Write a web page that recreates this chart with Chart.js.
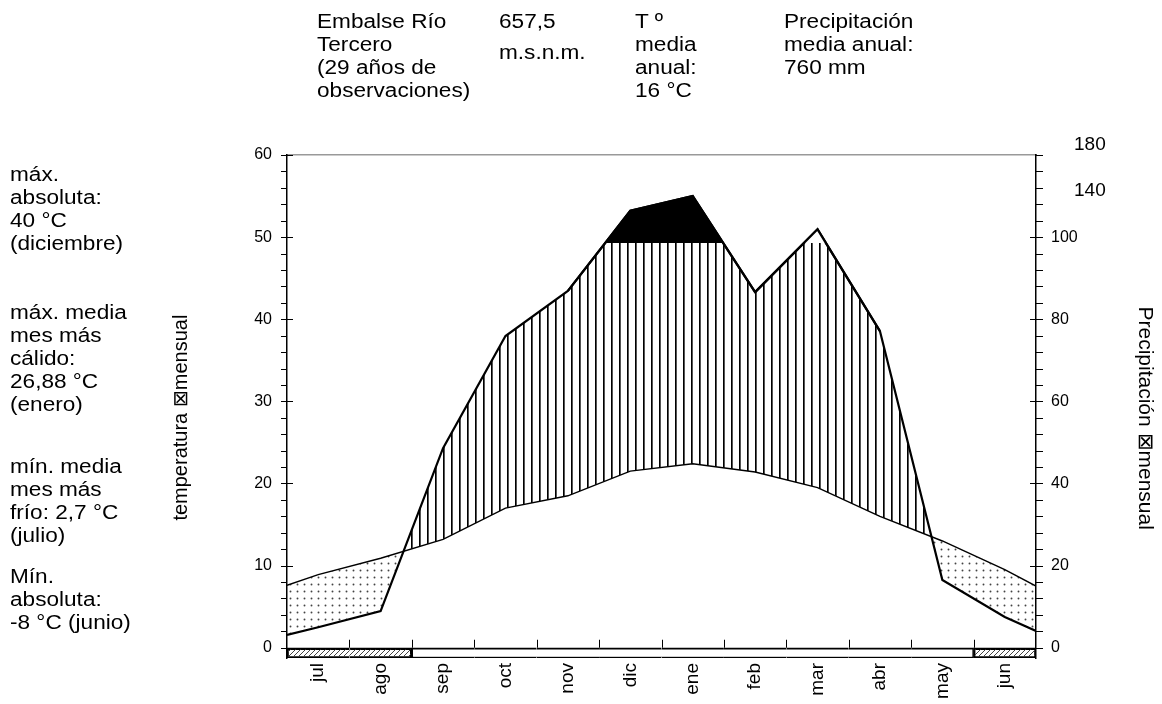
<!DOCTYPE html>
<html lang="es">
<head>
<meta charset="UTF-8">
<title>Climodiagrama Embalse Río Tercero</title>
<script src="https://cdn.jsdelivr.net/npm/chart.js@4.4.0/dist/chart.umd.min.js"></script>
<style>
    html, body { margin: 0; padding: 0; background: #fff; }
    body {
        width: 1162px; height: 704px; position: relative; overflow: hidden;
        font-family: 'Liberation Sans', Arial, sans-serif; color: #000;
    }
    #chart { position: absolute; left: 0; top: 0; }
    .note {
        position: absolute; font-size: 20px; line-height: 23px; white-space: nowrap;
        transform: scaleX(1.13); transform-origin: 0 0;
    }
</style>
</head>
<body>
<canvas id="chart" width="1162" height="704"></canvas>

<div class="note" style="left:317px; top:10px;">Embalse Río<br>Tercero<br>(29 años de<br>observaciones)</div>
<div class="note" style="left:499px; top:10px;">657,5</div>
<div class="note" style="left:499px; top:41px;">m.s.n.m.</div>
<div class="note" style="left:635px; top:10px;">T º<br>media<br>anual:<br>16 °C</div>
<div class="note" style="left:784px; top:10px;">Precipitación<br>media anual:<br>760 mm</div>

<div class="note" style="left:10px; top:163px;">máx.<br>absoluta:<br>40 °C<br>(diciembre)</div>
<div class="note" style="left:10px; top:301px;">máx. media<br>mes más<br>cálido:<br>26,88 °C<br>(enero)</div>
<div class="note" style="left:10px; top:455px;">mín. media<br>mes más<br>frío: 2,7 °C<br>(julio)</div>
<div class="note" style="left:10px; top:565px;">Mín.<br>absoluta:<br>-8 °C (junio)</div>

<script>
// months from July to June (southern hemisphere diagram)
const months = ['jul', 'ago', 'sep', 'oct', 'nov', 'dic', 'ene', 'feb', 'mar', 'abr', 'may', 'jun'];
const tempMean = [8.9, 10.9, 13.2, 17.0, 18.5, 21.5, 22.4, 21.4, 19.5, 16.0, 13.0, 9.5];
const precMm = [5.0, 8.9, 48.6, 75.9, 86.9, 122.9, 135.7, 86.6, 106.8, 77.1, 16.5, 7.5];
// values where the curves meet the left and right border
const tempEdges = [7.6, 7.5];
const precEdgesMm = [3.1, 4.1];
// months with absolute frost (hatched strip)
const frostMonths = [1, 1, 0, 0, 0, 0, 0, 0, 0, 0, 0, 1];
const blackMonths = ['nov', 'dic', 'ene', 'feb'];
const plainMonths = ['feb', 'mar', 'abr'];

const tempTicks = [0, 10, 20, 30, 40, 50, 60];
const precTicks = [0, 20, 40, 60, 80, 100];
const precTicksHigh = [140, 180];

const yMin = -1.25;        // room for the frost strip
const wetTop = 49.2843;    // 100 mm line as drawn

// 20 mm = 10 °C up to 100 mm, compressed above
function mmToUnits(mm) {
    return mm <= 100 ? mm / 2 : 50 + (mm - 100) * 0.14;
}

const tempPts = [{x: 0, y: tempEdges[0]}]
    .concat(months.map((m, i) => ({x: i + 0.5, y: tempMean[i]})))
    .concat([{x: 12, y: tempEdges[1]}]);
const precPts = [{x: 0, y: mmToUnits(precEdgesMm[0])}]
    .concat(months.map((m, i) => ({x: i + 0.5, y: mmToUnits(precMm[i])})))
    .concat([{x: 12, y: mmToUnits(precEdgesMm[1])}]);
const pickPrec = names => months
    .map((m, i) => names.includes(m) ? {x: i + 0.5, y: mmToUnits(precMm[i])} : null)
    .filter(p => p);

const canvas = document.getElementById('chart');
const ctx = canvas.getContext('2d');

function makePattern(w, h, draw) {
    const c = document.createElement('canvas');
    c.width = w;
    c.height = h;
    draw(c.getContext('2d'));
    return ctx.createPattern(c, 'repeat');
}

const stripes = makePattern(8, 8, g => {
    g.fillStyle = '#000';
    g.fillRect(3, 0, 1, 8);
    g.fillStyle = '#555';
    g.fillRect(4, 0, 1, 8);
});
const dots = makePattern(7, 7, g => {
    g.fillStyle = '#444';
    g.beginPath();
    g.arc(3.5, 3.5, 0.95, 0, Math.PI * 2);
    g.fill();
});
const hatch = makePattern(5, 5, g => {
    g.strokeStyle = '#444';
    g.lineWidth = 1;
    g.beginPath();
    g.moveTo(0, 5); g.lineTo(5, 0);
    g.moveTo(-1, 1); g.lineTo(1, -1);
    g.moveTo(4, 6); g.lineTo(6, 4);
    g.stroke();
});

// tick marks of both y axes and the month boundaries, plus the upper precip labels
const tickMarks = {
    id: 'tickMarks',
    afterDraw(chart) {
        const {ctx, chartArea, scales} = chart;
        const {x, y, y2} = scales;
        const l = chartArea.left, r = chartArea.right;
        ctx.save();
        ctx.strokeStyle = '#000';
        ctx.lineWidth = 1;
        ctx.beginPath();
        for (let v = 0; v <= 60; v += 2) {
            const py = Math.round(y.getPixelForValue(v)) + 0.5;
            const major = v % 10 === 0;
            ctx.moveTo(l - 6, py);
            ctx.lineTo(major ? l + 6 : l, py);
            ctx.moveTo(r + 7, py);
            ctx.lineTo(major && v <= 50 ? r - 6 : r, py);
        }
        const y0 = y.getPixelForValue(0);
        for (let i = 1; i < months.length; i++) {
            const px = Math.round(x.getPixelForValue(i)) + 0.5;
            ctx.moveTo(px, y0 - 8);
            ctx.lineTo(px, y0);
        }
        ctx.stroke();
        ctx.fillStyle = '#000';
        ctx.font = '19px "Liberation Sans", Arial, sans-serif';
        ctx.textAlign = 'left';
        ctx.textBaseline = 'middle';
        precTicksHigh.forEach(mm => {
            ctx.fillText(String(mm), r + 38, y2.getPixelForValue(mmToUnits(mm)));
        });
        ctx.restore();
    }
};

Chart.defaults.font.family = '"Liberation Sans", Arial, sans-serif';
Chart.defaults.color = '#000';

const nb = '\u00a0\u00a0\u00a0\u00a0';

new Chart(ctx, {
    type: 'line',
    data: {
        datasets: [
            {
                label: 'temperatura',
                data: tempPts,
                borderColor: '#000',
                borderWidth: 1.4,
                pointRadius: 0,
                fill: false
            },
            {
                label: 'precipitación (mar)',
                data: pickPrec(plainMonths),
                borderColor: '#000',
                borderWidth: 2.2,
                pointRadius: 0,
                fill: {target: {value: wetTop}, above: '#fff', below: 'rgba(0,0,0,0)'}
            },
            {
                label: 'precipitación > 100 mm',
                data: pickPrec(blackMonths),
                borderColor: '#000',
                borderWidth: 2.2,
                pointRadius: 0,
                fill: {target: {value: wetTop}, above: '#000', below: 'rgba(0,0,0,0)'}
            },
            {
                label: 'precipitación',
                data: precPts,
                borderColor: '#000',
                borderWidth: 2.2,
                pointRadius: 0,
                fill: {target: 0, above: stripes, below: dots}
            },
            {
                type: 'bar',
                label: 'heladas',
                data: months.map((m, i) => ({x: i + 0.5, y: [yMin, 0]})),
                backgroundColor: months.map((m, i) => frostMonths[i] ? hatch : '#fff'),
                borderColor: '#000',
                borderWidth: months.map((m, i) => ({
                    top: 2,
                    bottom: 1.5,
                    left: frostMonths[i] !== (frostMonths[i - 1] || 0) ? 1.5 : 0,
                    right: frostMonths[i] !== (frostMonths[i + 1] || 0) ? 1.5 : 0
                })),
                borderSkipped: false,
                barPercentage: 1,
                categoryPercentage: 1
            }
        ]
    },
    options: {
        responsive: false,
        devicePixelRatio: 1,
        animation: false,
        layout: {padding: {top: 155, left: 0, right: 0, bottom: 0}},
        plugins: {legend: {display: false}, tooltip: {enabled: false}},
        scales: {
            x: {
                type: 'linear',
                position: 'bottom',
                min: 0,
                max: 12,
                offset: false,
                afterBuildTicks: s => { s.ticks = months.map((m, i) => ({value: i + 0.5})); },
                afterFit: s => { s.height = 46; },
                grid: {display: false, drawTicks: false},
                border: {display: false},
                ticks: {
                    autoSkip: false,
                    minRotation: 90,
                    maxRotation: 90,
                    padding: 5,
                    font: {size: 19},
                    color: '#000',
                    callback: (v, i) => months[i]
                }
            },
            xTop: {
                type: 'linear',
                position: 'top',
                min: 0,
                max: 12,
                afterFit: s => { s.height = 0; },
                grid: {display: false, drawTicks: false},
                ticks: {display: false},
                border: {display: true, color: '#999', width: 1.5}
            },
            y: {
                position: 'left',
                min: yMin,
                max: 60,
                afterBuildTicks: s => { s.ticks = tempTicks.map(v => ({value: v})); },
                afterFit: s => { s.width = 287; },
                grid: {display: false, drawTicks: false},
                border: {display: true, color: '#000', width: 1.5},
                ticks: {padding: 15, font: {size: 16}, color: '#000'},
                title: {
                    display: true,
                    text: 'temperatura ⊠mensual' + nb,
                    font: {size: 20},
                    color: '#000',
                    padding: {top: 169, bottom: 0}
                }
            },
            y2: {
                position: 'right',
                min: yMin,
                max: 60,
                afterBuildTicks: s => { s.ticks = precTicks.map(mm => ({value: mmToUnits(mm)})); },
                afterFit: s => { s.width = 126; },
                grid: {display: false, drawTicks: false},
                border: {display: true, color: '#000', width: 1.5},
                ticks: {padding: 15, font: {size: 16}, color: '#000', callback: (v, i) => precTicks[i]},
                title: {
                    display: true,
                    text: nb + 'Precipitación ⊠mensual',
                    font: {size: 21},
                    color: '#000',
                    padding: {top: 5, bottom: 0}
                }
            }
        }
    },
    plugins: [tickMarks]
});
</script>
</body>
</html>
